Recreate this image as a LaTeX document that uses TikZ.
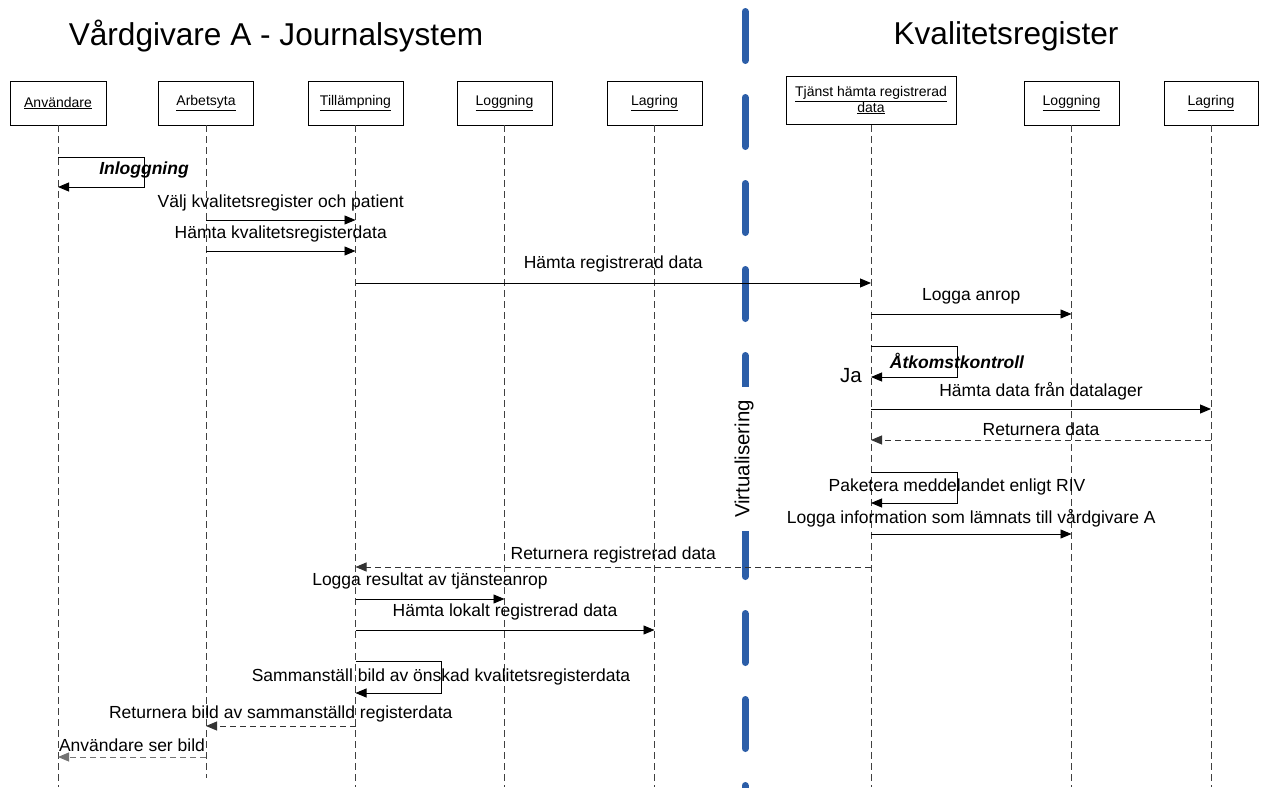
\documentclass[tikz,border=0pt]{standalone}
\usepackage{fontspec}
\setmainfont{Liberation Sans}
\usetikzlibrary{arrows.meta}
\definecolor{virtblue}{RGB}{44,94,168}

\begin{document}
\begin{tikzpicture}[x=1pt,y=-1pt,
  head/.style={draw=black, line width=0.9pt, fill=white, minimum height=44pt,
    inner sep=2pt, align=center, font=\fontsize{14}{15}\selectfont},
  life/.style={draw=black!75, line width=0.8pt, dash pattern=on 7pt off 4pt},
  msg/.style={draw=black, line width=0.9pt, -{Triangle[length=11pt,width=9pt]}},
  ret/.style={msg, draw=black!80, dash pattern=on 6pt off 4pt},
  lbl/.style={font=\fontsize{17.5}{20}\selectfont, inner sep=0pt},
  loopl/.style={font=\bfseries\itshape\fontsize{17.5}{20}\selectfont, inner sep=0pt},
  title/.style={font=\fontsize{31.6}{35}\selectfont, inner sep=0pt},
  divider/.style={draw=virtblue, line width=7pt, line cap=round,
    dash pattern=on 49pt off 37pt},
]
\useasboundingbox (0,0) rectangle (1263,787);

% titles
\node[title] (ttlA) at (276,36) {Vårdgivare A - Journalsystem};
\node[title] (ttlK) at (1006,36) {Kvalitetsregister};

% virtualisation divider
\coordinate (divtop) at (745,11.5);
\coordinate (divbot) at (745,795);
\draw[divider] (divtop) -- (divbot);
\node[rotate=90, fill=white, inner xsep=13pt, inner ysep=2pt,
  font=\fontsize{20.4}{22}\selectfont] (virt) at (744,459) {Virtualisering};

% participants
\node[head, minimum width=96pt] (usr) at (58,103) {\underline{Användare}};
\node[head, minimum width=95pt] (arb) at (206,103) {\underline{Arbetsyta}};
\node[head, minimum width=95pt] (til) at (355.5,103) {\underline{Tillämpning}};
\node[head, minimum width=95pt] (logA) at (504.5,103) {\underline{Loggning}};
\node[head, minimum width=95pt] (lagA) at (654.5,103) {\underline{Lagring}};
\node[head, minimum width=170pt, minimum height=48pt] (tj) at (871,100.5)
  {\underline{Tjänst hämta registrerad}\\[-1pt]\underline{data}};
\node[head, minimum width=95pt] (logK) at (1071.5,103) {\underline{Loggning}};
\node[head, minimum width=94pt] (lagK) at (1211,103) {\underline{Lagring}};

% lifelines
\coordinate (bot) at (0,787);
\coordinate (botArb) at (0,778);
\foreach \p in {usr,til,logA,lagA,tj,logK,lagK}
  \draw[life] (\p.south) -- (\p |- bot);
\draw[life] (arb.south) -- (arb |- botArb);

% message rows
\coordinate (r1a) at (0,157);  \coordinate (r1b) at (0,187);
\coordinate (r2) at (0,220);
\coordinate (r3) at (0,251);
\coordinate (r4) at (0,283);
\coordinate (r5) at (0,314);
\coordinate (r6a) at (0,346);  \coordinate (r6b) at (0,377);
\coordinate (r7) at (0,409);
\coordinate (r8) at (0,440);
\coordinate (r9a) at (0,472);  \coordinate (r9b) at (0,503);
\coordinate (r10) at (0,534);
\coordinate (r11) at (0,567);
\coordinate (r12) at (0,599);
\coordinate (r13) at (0,630);
\coordinate (r14a) at (0,661); \coordinate (r14b) at (0,693);
\coordinate (r15) at (0,726);
\coordinate (r16) at (0,757);

% loop corners
\coordinate (k1) at (144,0);
\coordinate (k6) at (957,0);
\coordinate (k14) at (441,0);

% Inloggning
\draw[msg] (usr |- r1a) -- (k1 |- r1a) -- (k1 |- r1b) -- (usr |- r1b);
\node[loopl] (l1) at (144,170) {Inloggning};

\draw[msg] (arb |- r2) -- node[lbl, yshift=17pt] (l2) {Välj kvalitetsregister och patient} (til |- r2);
\draw[msg] (arb |- r3) -- node[lbl, yshift=17pt] (l3) {Hämta kvalitetsregisterdata} (til |- r3);
\draw[msg] (til |- r4) -- node[lbl, yshift=19pt] (l4) {Hämta registrerad data} (tj |- r4);
\draw[msg] (tj |- r5) -- node[lbl, yshift=18pt] (l5) {Logga anrop} (logK |- r5);

% Åtkomstkontroll
\draw[msg] (tj |- r6a) -- (k6 |- r6a) -- (k6 |- r6b) -- (tj |- r6b);
\node[loopl] (l6) at (957,361) {Åtkomstkontroll};
\node[font=\fontsize{20.5}{22}\selectfont, inner sep=0pt] (ja) at (851,376) {Ja};

\draw[msg] (tj |- r7) -- node[lbl, yshift=18pt] (l7) {Hämta data från datalager} (lagK |- r7);
\draw[ret] (lagK |- r8) -- node[lbl, yshift=11pt] (l8) {Returnera data} (tj |- r8);

% Paketera
\draw[msg] (tj |- r9a) -- (k6 |- r9a) -- (k6 |- r9b) -- (tj |- r9b);
\node[lbl] (l9) at (957,487) {Paketera meddelandet enligt RIV};

\draw[msg] (tj |- r10) -- node[lbl, yshift=16pt] (l10) {Logga information som lämnats till vårdgivare A} (logK |- r10);
\draw[ret] (tj |- r11) -- node[lbl, yshift=12pt] (l11) {Returnera registrerad data} (til |- r11);
\draw[msg] (til |- r12) -- node[lbl, yshift=18pt] (l12) {Logga resultat av tjänsteanrop} (logA |- r12);
\draw[msg] (til |- r13) -- node[lbl, yshift=18pt] (l13) {Hämta lokalt registrerad data} (lagA |- r13);

% Sammanställ
\draw[msg] (til |- r14a) -- (k14 |- r14a) -- (k14 |- r14b) -- (til |- r14b);
\node[lbl] (l14) at (441,677) {Sammanställ bild av önskad kvalitetsregisterdata};

\draw[ret] (til |- r15) -- node[lbl, yshift=12pt] (l15) {Returnera bild av sammanställd registerdata} (arb |- r15);
\draw[ret, draw=black!55] (arb |- r16) -- node[lbl, yshift=12pt] (l16) {Användare ser bild} (usr |- r16);
\end{tikzpicture}
\end{document}
